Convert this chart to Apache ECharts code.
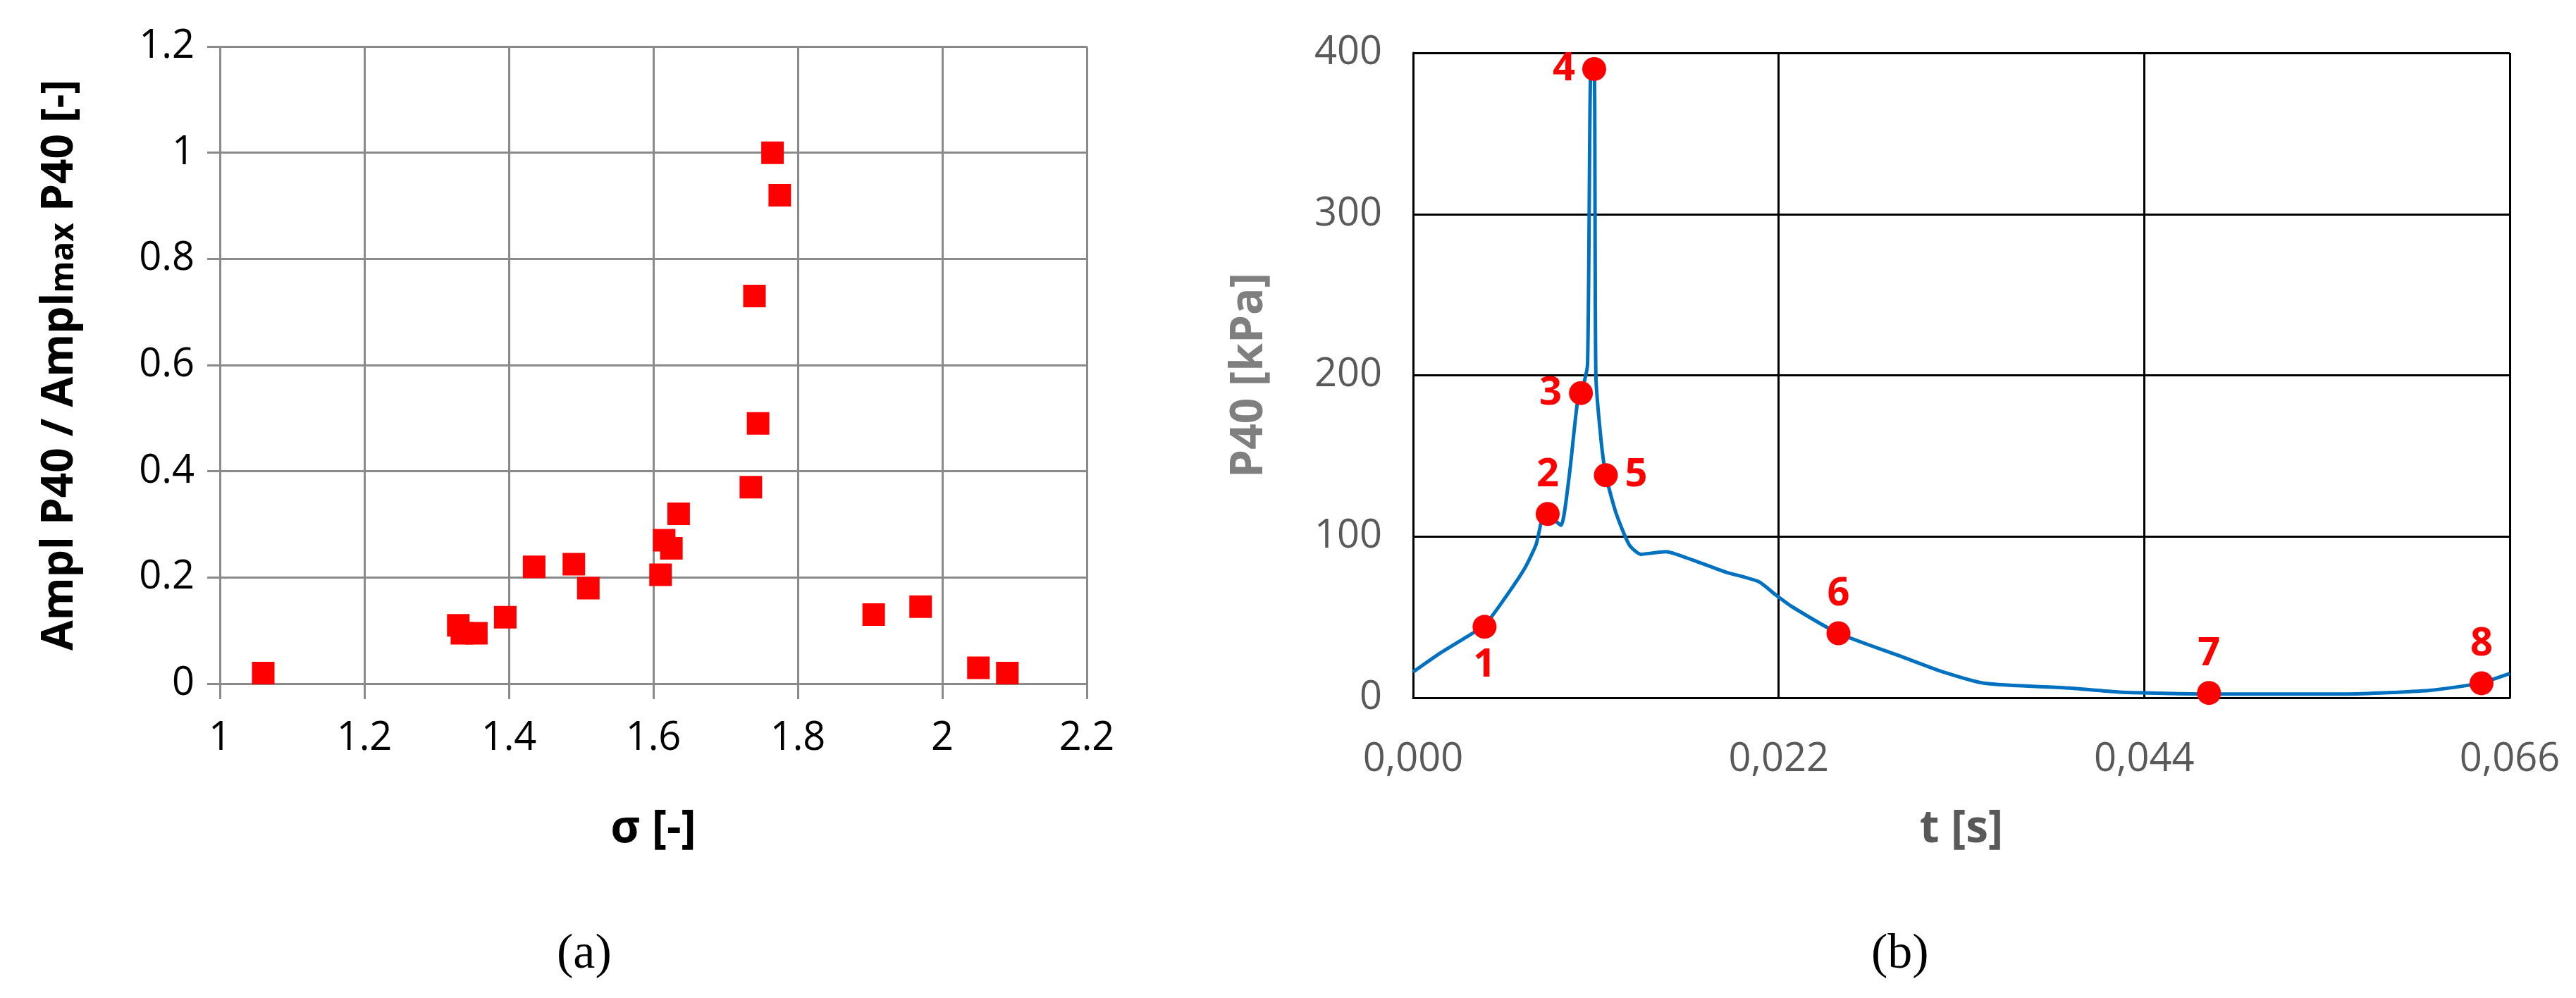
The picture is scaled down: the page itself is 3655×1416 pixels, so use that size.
<!DOCTYPE html>
<html><head><meta charset="utf-8">
<script src="https://cdn.jsdelivr.net/npm/echarts@6/dist/echarts.min.js"></script>
<style>html,body{margin:0;background:#fff}#c{width:3655px;height:1416px}</style>
</head><body><div id="c"></div>
<script>
const sigma = [1.06,1.33,1.335,1.355,1.395,1.435,1.49,1.51,1.61,1.615,1.625,1.635,1.735,1.74,1.745,1.765,1.775,1.905,1.97,2.05,2.09];
const amplRatio = [0.02,0.11,0.095,0.095,0.125,0.22,0.225,0.18,0.205,0.27,0.255,0.32,0.37,0.73,0.49,1.0,0.92,0.13,0.145,0.03,0.02];
const tCurve = [0,0.0016,0.0031,0.0043,0.0054,0.0067,0.0074,0.0079,0.0084,0.0089,0.0094,0.0099,0.0102,0.0105,0.0107,0.0109,0.0110,0.0113,0.0116,0.0122,0.0130,0.0137,0.0152,0.0168,0.0188,0.0208,0.0218,0.0228,0.0256,0.0294,0.0319,0.0344,0.0395,0.0425,0.0479,0.0561,0.0612,0.0642,0.066];
const pCurve = [16,27.5,37,45,60,80,95,114,111,107,138,184,192,207,390,390,200,161,138,115,95,89,90.6,85.5,78,72,64,56.5,40,25.5,16,9,6,3.5,2.3,2.3,4.6,9,15];
const markT = [0.0043,0.0081,0.0101,0.0109,0.0116,0.0256,0.0479,0.0643];
const markP = [44,114,189,390,138,40,3,9];
const markLabels = ['1','2','3','4','5','6','7','8'];
const markPos = ['bottom','top','left','left','right','top','top','top'];
const xTicksB = ['0,000','0,022','0,044','0,066'];

const chart = echarts.init(document.getElementById('c'));
const F = 'Open Sans';
chart.setOption({
  animation:false,
  grid:[
    {left:312,right:2113,top:66,bottom:446},
    {left:2005,right:94,top:75,bottom:426}
  ],
  xAxis:[
    {gridIndex:0,type:'value',min:1,max:2.2,interval:0.2,
     axisLine:{onZero:false,lineStyle:{color:'#8a8a8a',width:3}},
     axisTick:{show:true,length:22,lineStyle:{color:'#8a8a8a',width:3}},
     splitLine:{show:true,lineStyle:{color:'#8a8a8a',width:3}},
     axisLabel:{fontFamily:F,fontSize:56,color:'#000',margin:50,formatter:v=>String(+v.toFixed(1))},
     name:'σ [-]',nameLocation:'middle',nameGap:175,
     nameTextStyle:{fontFamily:F,fontSize:64,fontWeight:'bold',color:'#000'}},
    {gridIndex:1,type:'value',min:0,max:0.066,interval:0.022,
     axisLine:{onZero:false,lineStyle:{color:'#000',width:3}},
     axisTick:{show:false},
     splitLine:{show:true,lineStyle:{color:'#000',width:3}},
     axisLabel:{fontFamily:F,fontSize:56,color:'#595959',margin:60,
       formatter:(v)=>xTicksB[Math.round(v/0.022)]},
     name:'t [s]',nameLocation:'middle',nameGap:155,
     nameTextStyle:{fontFamily:F,fontSize:64,fontWeight:'bold',color:'#595959'}}
  ],
  yAxis:[
    {gridIndex:0,type:'value',min:0,max:1.2,interval:0.2,
     axisLine:{show:false},
     axisTick:{show:true,length:18,lineStyle:{color:'#8a8a8a',width:3}},
     splitLine:{show:true,lineStyle:{color:'#8a8a8a',width:3}},
     axisLabel:{fontFamily:F,fontSize:56,color:'#000',margin:36,formatter:v=>String(+v.toFixed(1))},
     name:'{b|Ampl P40 / Ampl}{s|max}{b| P40 [-]}',nameLocation:'middle',nameGap:196,
     nameTextStyle:{rich:{b:{fontFamily:F,fontSize:62,fontWeight:'bold',color:'#000'},
                          s:{fontFamily:F,fontSize:46,fontWeight:'bold',color:'#000',padding:[12,0,0,0]}}}},
    {gridIndex:1,type:'value',min:0,max:400,interval:100,
     axisLine:{show:true,lineStyle:{color:'#000',width:3}},
     axisTick:{show:false},
     splitLine:{show:true,lineStyle:{color:'#000',width:3}},
     axisLabel:{fontFamily:F,fontSize:56,color:'#595959',margin:44},
     name:'P40 [kPa]',nameLocation:'middle',nameGap:200,
     nameTextStyle:{fontFamily:F,fontSize:64,fontWeight:'bold',color:'#7f7f7f'}}
  ],
  series:[
    {type:'scatter',xAxisIndex:0,yAxisIndex:0,symbol:'rect',symbolSize:32,
     itemStyle:{color:'#ff0000',opacity:1},data:sigma.map((s,i)=>[s,amplRatio[i]])},
    {type:'line',xAxisIndex:1,yAxisIndex:1,symbol:'none',smooth:0.2,
     lineStyle:{color:'#0070c0',width:5},data:tCurve.map((t,i)=>[t,pCurve[i]]),z:2},
    {type:'scatter',xAxisIndex:1,yAxisIndex:1,symbol:'circle',symbolSize:34,z:3,
     itemStyle:{color:'#ff0000',opacity:1},
     data:markT.map((t,i)=>({value:[t,markP[i]],label:{position:markPos[i]}})),
     label:{show:true,formatter:p=>markLabels[p.dataIndex],fontFamily:F,fontSize:56,
            fontWeight:'bold',color:'#ff0000',distance:10}}
  ],
  graphic:[
    {type:'text',left:790,top:1320,style:{text:'(a)',font:'70px "Liberation Serif"',fill:'#000'}},
    {type:'text',left:2655,top:1320,style:{text:'(b)',font:'70px "Liberation Serif"',fill:'#000'}}
  ]
});
</script></body></html>
